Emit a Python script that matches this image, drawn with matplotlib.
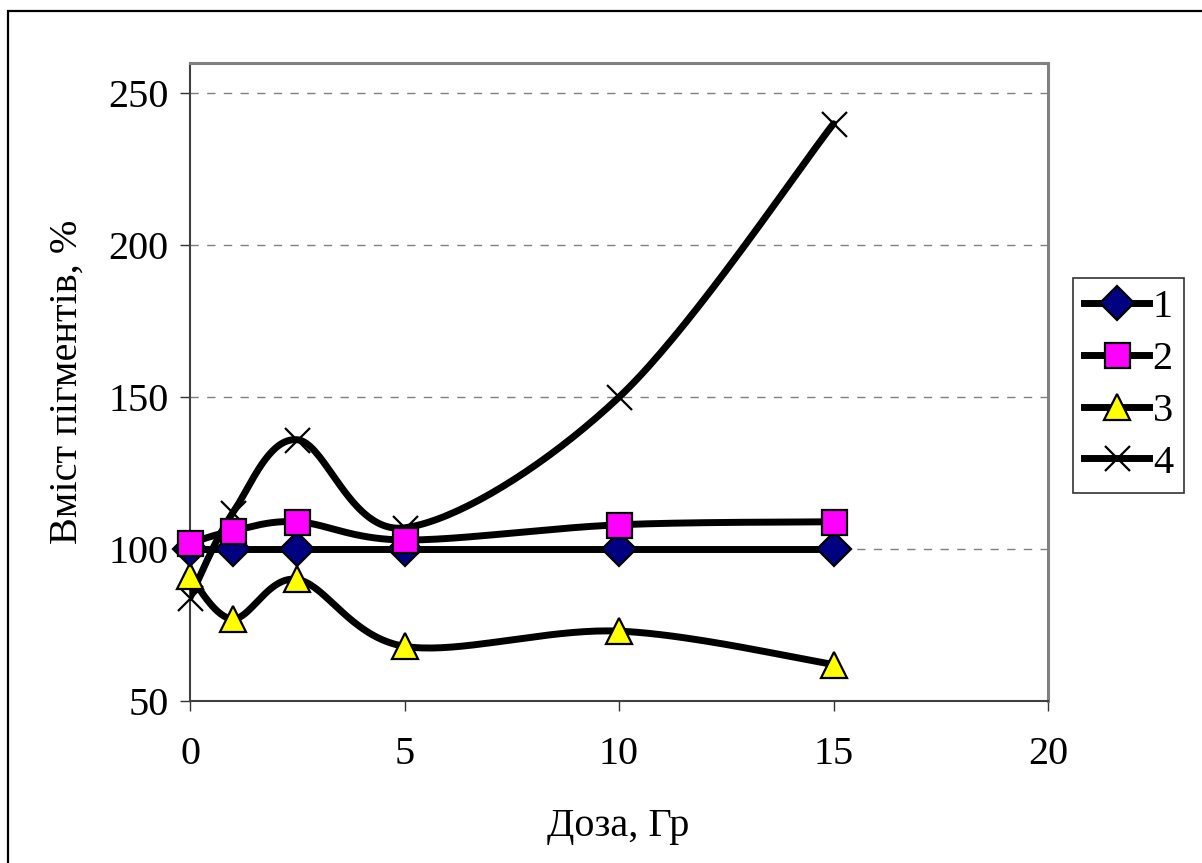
import numpy as np
import matplotlib
matplotlib.use("Agg")
import matplotlib.pyplot as plt
from matplotlib.patches import Rectangle
from matplotlib.lines import Line2D

# ---- data ----
dose = [0, 1, 2.5, 5, 10, 15]
s1 = [100, 100, 100, 100, 100, 100]
s2 = [102, 106, 109, 103, 108, 109]
s3 = [91, 77, 90, 68, 73, 62]
s4 = [84, 112, 136, 107, 150, 240]
labels = ["1", "2", "3", "4"]
xticks = [0, 5, 10, 15, 20]
yticks = [50, 100, 150, 200, 250]
xlabel = "Доза, Гр"
ylabel = "Вміст пігментів, %"

plt.rcParams['font.family'] = ['Liberation Serif', 'DejaVu Serif']

def smooth(x, y, n=40):
    x = np.asarray(x, float); y = np.asarray(y, float)
    P = np.column_stack([x, y])
    Pe = np.vstack([P[0], P, P[-1]])
    out = []
    for i in range(len(P) - 1):
        p0, p1, p2, p3 = Pe[i], Pe[i + 1], Pe[i + 2], Pe[i + 3]
        c1 = p1 + (p2 - p0) / 6.0
        c2 = p2 - (p3 - p1) / 6.0
        t = np.linspace(0, 1, n)[:, None]
        seg = ((1 - t) ** 3) * p1 + 3 * ((1 - t) ** 2) * t * c1 + 3 * (1 - t) * t ** 2 * c2 + t ** 3 * p2
        out.append(seg if i == 0 else seg[1:])
    s = np.vstack(out)
    return s[:, 0], s[:, 1]

W, H = 1202, 863
fig = plt.figure(figsize=(W / 100, H / 100), dpi=100)
ax = fig.add_axes([190 / W, 1 - 701 / H, (1048 - 190) / W, (701 - 63) / H])

# outer frame (top/left visible)
fig.patches.append(Rectangle((8 / W, -0.1), 1.2, (H - 11) / H + 0.1, transform=fig.transFigure,
                             fill=False, edgecolor='black', linewidth=1.6, zorder=0))

ax.set_xlim(0, 20)
ax.set_ylim(50, 260)
ax.set_xticks(xticks)
ax.set_yticks(yticks)
ax.tick_params(axis='both', direction='out', length=7.5, width=1.0, color='#333333',
               labelsize=29, labelcolor='black')
ax.tick_params(axis='x', pad=18)
ax.tick_params(axis='y', pad=8)
for y in yticks[1:]:
    ax.axhline(y, color='#808080', linewidth=1.0, linestyle=(0, (6, 6)), zorder=1)
for side in ['top', 'right']:
    ax.spines[side].set_color('#808080')
    ax.spines[side].set_linewidth(2.2)
for side in ['left', 'bottom']:
    ax.spines[side].set_color('#404040')
    ax.spines[side].set_linewidth(1.5)

LW = 5.0
series = [
    (s1, 'D', '#000080', 17),
    (s2, 's', '#FF00FF', 18),
    (s3, '^', '#FFFF00', 19),
    (s4, 'x', 'black', 18),
]
zorders = {0: 5, 1: 6, 2: 4, 3: 3}
handles = []
for i, (s, m, c, ms) in enumerate(series):
    xs, ys = smooth(dose, s)
    ax.plot(xs, ys, color='black', linewidth=LW, solid_capstyle='round', zorder=zorders[i])
    if m == 'x':
        ax.plot(dose, s, linestyle='none', marker='x', markersize=ms, markeredgecolor='black',
                markeredgewidth=1.6, zorder=zorders[i] + 0.5, clip_on=False)
        h = Line2D([], [], color='black', linewidth=LW, marker='x', markersize=ms,
                   markeredgecolor='black', markeredgewidth=1.6)
    else:
        ax.plot(dose, s, linestyle='none', marker=m, markersize=ms, markerfacecolor=c,
                markeredgecolor='black', markeredgewidth=1.6, zorder=zorders[i] + 0.5, clip_on=False)
        h = Line2D([], [], color='black', linewidth=LW, marker=m, markersize=ms,
                   markerfacecolor=c, markeredgecolor='black', markeredgewidth=1.6)
    handles.append(h)

leg = fig.legend(handles, labels, loc='upper left', bbox_to_anchor=(1073 / W, 1 - 278 / H),
                 bbox_transform=fig.transFigure, fontsize=29, frameon=True, fancybox=False,
                 edgecolor='black', handlelength=1.6, handletextpad=0.1, labelspacing=0.36,
                 borderpad=0.28, borderaxespad=0)
leg.get_frame().set_linewidth(1.2)

fig.text(618 / W, 1 - 826 / H, xlabel, fontsize=29, ha='center', va='center')
fig.text(67 / W, 1 - 382 / H, ylabel, fontsize=29, ha='center', va='center', rotation=90)

fig.savefig('out.png', dpi=100)
